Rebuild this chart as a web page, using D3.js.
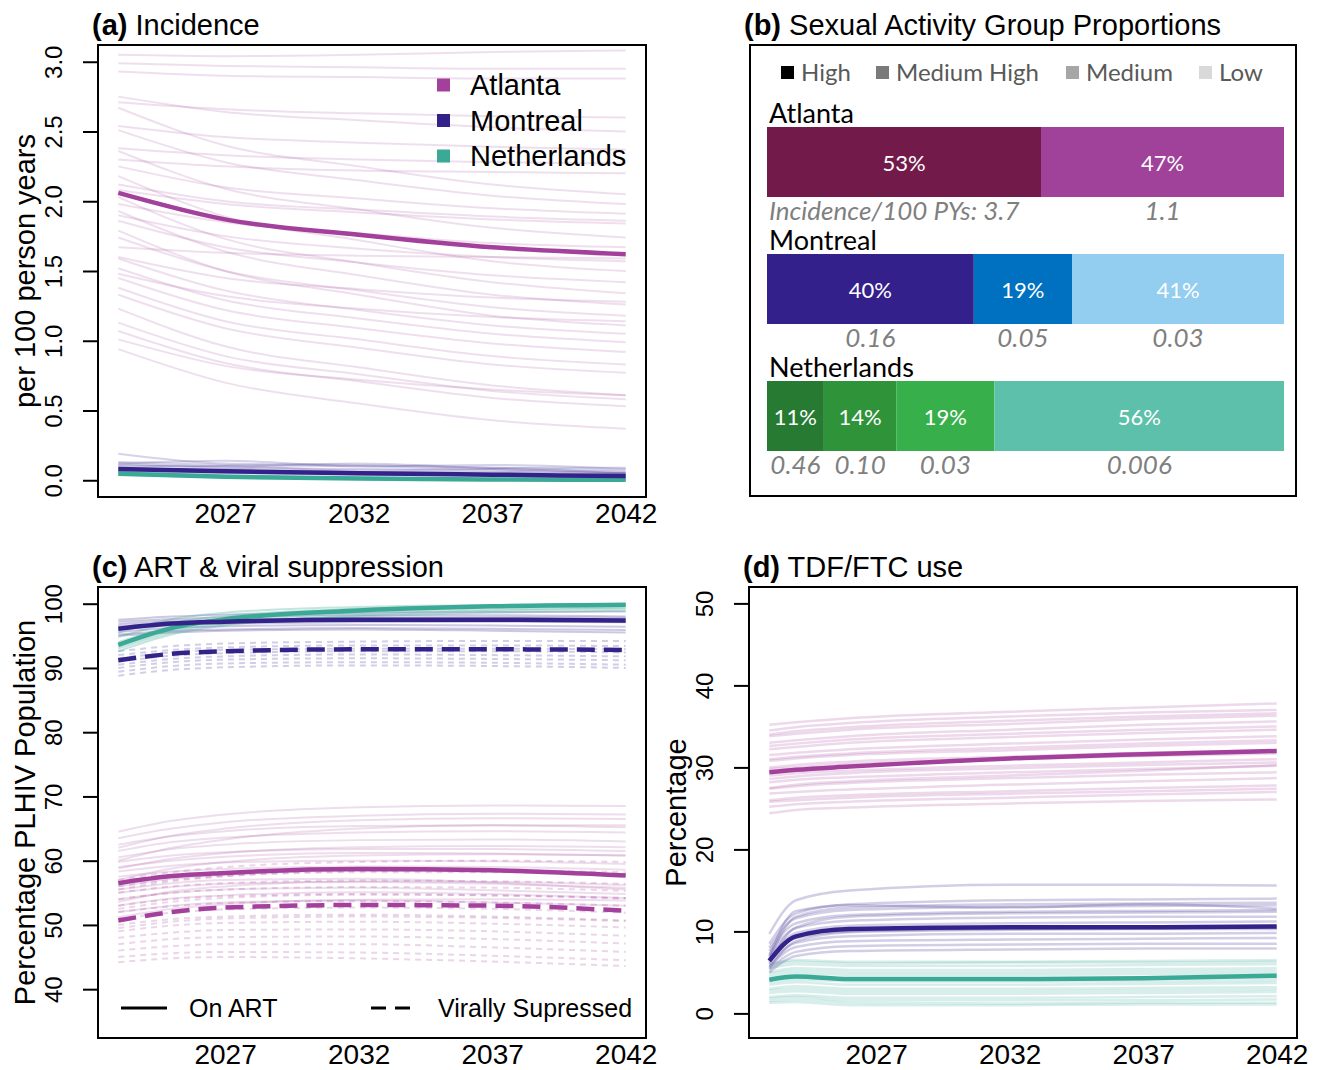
<!DOCTYPE html>
<html>
<head>
<meta charset="utf-8">
<script src="https://cdn.jsdelivr.net/npm/d3@7"></script>
<style>
  body { margin: 0; background: #fff; }
  svg { display: block; font-family: "Liberation Sans", Arial, sans-serif; }
</style>
</head>
<body>
<div id="chart"></div>
<script>
// ---- data ----
// x positions (years) used by each panel
const yearsA = [2023, 2027, 2032, 2037, 2042];
const yearsC = [2023, 2025, 2027, 2032, 2037, 2042];
const yearsD = [2023, 2024, 2026, 2032, 2037, 2042];
const xTickYears = [2027, 2032, 2037, 2042];

// (a) incidence per 100 person years
const atlIncMean = [2.06, 1.87, 1.76, 1.67, 1.62];
const mtlIncMean = [0.08, 0.065, 0.05, 0.04, 0.03];
const netIncMean = [0.047, 0.025, 0.012, 0.006, 0.003];
const atlIncRuns = [
  [3.05, 3.04, 3.05, 3.07, 3.08], [2.99, 2.97, 2.96, 2.95, 2.95], [2.93, 2.90, 2.89, 2.88, 2.88],
  [2.75, 2.64, 2.58, 2.53, 2.50], [2.71, 2.66, 2.63, 2.61, 2.60], [2.67, 2.40, 2.25, 2.12, 2.05],
  [2.54, 2.46, 2.42, 2.39, 2.37], [2.51, 2.28, 2.15, 2.04, 1.98], [2.38, 2.33, 2.30, 2.28, 2.27],
  [2.36, 2.09, 1.94, 1.81, 1.74], [2.30, 2.25, 2.22, 2.21, 2.20], [2.25, 2.10, 2.02, 1.95, 1.91],
  [2.18, 1.89, 1.72, 1.57, 1.50], [2.12, 2.00, 1.94, 1.89, 1.86], [2.08, 1.98, 1.92, 1.87, 1.84],
  [2.03, 1.73, 1.56, 1.42, 1.34], [1.98, 1.85, 1.77, 1.70, 1.67], [1.93, 1.64, 1.47, 1.33, 1.26],
  [1.90, 1.75, 1.66, 1.60, 1.57], [1.86, 1.67, 1.56, 1.47, 1.42], [1.79, 1.50, 1.33, 1.18, 1.11],
  [1.74, 1.50, 1.36, 1.24, 1.18], [1.67, 1.63, 1.61, 1.60, 1.59], [1.60, 1.45, 1.37, 1.31, 1.28],
  [1.59, 1.36, 1.22, 1.11, 1.05], [1.52, 1.29, 1.16, 1.05, 0.99], [1.48, 1.32, 1.23, 1.17, 1.14],
  [1.45, 1.22, 1.09, 0.98, 0.92], [1.38, 1.14, 1.01, 0.89, 0.83], [1.33, 1.09, 0.95, 0.83, 0.77],
  [1.23, 0.96, 0.81, 0.68, 0.61], [1.13, 0.89, 0.76, 0.64, 0.58], [1.07, 0.84, 0.71, 0.59, 0.53],
  [1.01, 0.82, 0.72, 0.65, 0.61], [0.94, 0.70, 0.55, 0.43, 0.37]
];
const mtlIncRuns = [
  [0.19, 0.12, 0.11, 0.09, 0.07], [0.13, 0.11, 0.10, 0.08, 0.06], [0.12, 0.14, 0.10, 0.11, 0.08],
  [0.11, 0.09, 0.08, 0.07, 0.05], [0.10, 0.10, 0.07, 0.08, 0.05], [0.09, 0.07, 0.06, 0.05, 0.04],
  [0.07, 0.06, 0.05, 0.04, 0.03], [0.06, 0.05, 0.04, 0.03, 0.02], [0.12, 0.10, 0.12, 0.09, 0.09],
  [0.08, 0.08, 0.06, 0.06, 0.05]
];
const netIncRuns = [
  [0.06, 0.035, 0.02, 0.01, 0.006], [0.05, 0.03, 0.015, 0.008, 0.004],
  [0.04, 0.02, 0.01, 0.005, 0.002], [0.055, 0.03, 0.018, 0.01, 0.006]
];

// (b) sexual activity group proportions (%) and incidence labels
const cities = ["Atlanta", "Montreal", "Netherlands"];
const groupNames = ["High", "Medium High", "Medium", "Low"];
const atlShares = [53, 47];
const mtlShares = [40, 19, 41];
const netShares = [11, 14, 19, 56];
const atlIncLabels = ["Incidence/100 PYs: 3.7", "1.1"];
const mtlIncLabels = ["0.16", "0.05", "0.03"];
const netIncLabels = ["0.46", "0.10", "0.03", "0.006"];

// (c) % of PLHIV on ART (solid) and virally suppressed (dashed)
const atlArtMean = [56.5, 57.6, 58.1, 58.7, 58.5, 57.7];
const atlVsMean = [50.7, 52.0, 52.7, 53.1, 53.0, 52.2];
const mtlArtMean = [96.1, 96.9, 97.2, 97.5, 97.5, 97.4];
const mtlVsMean = [91.2, 92.2, 92.6, 92.9, 92.9, 92.8];
const netArtMean = [93.6, 96.2, 97.6, 98.95, 99.6, 99.85];
const atlArtRuns = [
  [64.5, 66.2, 67.2, 68.3, 68.6, 68.5], [63.5, 65.0, 66.0, 67.0, 67.3, 67.2], [62.5, 63.8, 64.6, 65.4, 65.5, 65.2],
  [61.5, 62.9, 63.6, 64.4, 64.6, 64.4], [60.5, 61.8, 62.5, 63.2, 63.3, 63.0], [59.8, 60.8, 61.3, 61.8, 61.8, 61.5],
  [59.0, 60.0, 60.6, 61.2, 61.1, 60.8], [58.3, 59.2, 59.7, 60.0, 59.9, 59.5], [57.5, 58.3, 58.7, 59.1, 59.0, 58.6],
  [56.0, 57.2, 57.8, 58.4, 58.3, 57.9], [55.0, 55.9, 56.4, 56.7, 56.4, 55.8], [54.0, 55.0, 55.5, 55.8, 55.4, 54.8],
  [53.0, 54.1, 54.6, 55.1, 54.8, 54.2], [52.0, 53.0, 53.5, 53.8, 53.5, 53.0], [51.2, 52.5, 53.2, 53.9, 54.0, 53.8],
  [60.0, 62.0, 63.3, 65.0, 65.5, 65.5], [57.0, 58.8, 59.8, 60.8, 61.0, 60.8], [55.5, 56.5, 57.0, 57.2, 56.6, 55.5],
  [62.0, 63.9, 65.0, 66.3, 66.6, 66.5], [58.8, 60.3, 61.2, 62.1, 62.3, 62.1], [53.6, 55.2, 56.0, 56.8, 56.7, 56.2]
];
const atlVsRuns = [
  [57.0, 58.2, 59.0, 59.8, 60.0, 59.8], [56.0, 57.0, 57.6, 58.2, 58.2, 57.8], [55.0, 56.0, 56.5, 56.9, 56.8, 56.4],
  [54.0, 55.0, 55.5, 55.9, 55.8, 55.3], [53.0, 54.0, 54.5, 54.8, 54.6, 54.1], [52.0, 52.9, 53.4, 53.7, 53.5, 53.0],
  [51.0, 51.9, 52.4, 52.7, 52.5, 51.9], [50.0, 50.9, 51.3, 51.6, 51.3, 50.7], [49.0, 49.9, 50.3, 50.5, 50.2, 49.6],
  [48.0, 48.8, 49.2, 49.3, 49.0, 48.3], [47.0, 47.8, 48.1, 48.2, 47.8, 47.1], [46.0, 46.7, 47.0, 47.0, 46.5, 45.8],
  [45.0, 45.6, 45.8, 45.7, 45.2, 44.5], [44.2, 44.8, 45.0, 44.8, 44.3, 43.6], [55.5, 56.8, 57.6, 58.4, 58.5, 58.2],
  [52.5, 53.6, 54.2, 54.7, 54.6, 54.2], [49.5, 50.5, 51.0, 51.3, 51.1, 50.6]
];
const mtlArtRuns = [
  [97.5, 98.0, 98.3, 98.6, 98.7, 98.8], [97.2, 97.6, 97.9, 98.2, 98.2, 98.0], [96.8, 97.3, 97.5, 97.8, 97.9, 97.8],
  [96.5, 97.0, 97.3, 97.6, 97.5, 97.2], [96.0, 96.6, 96.9, 97.1, 97.2, 97.1], [95.6, 96.2, 96.5, 96.7, 96.6, 96.4],
  [95.2, 95.8, 96.0, 96.2, 96.1, 95.9], [95.0, 95.5, 95.8, 96.0, 95.8, 95.5]
];
const mtlVsRuns = [
  [92.6, 93.4, 93.8, 94.1, 94.2, 94.2], [92.0, 92.8, 93.2, 93.5, 93.5, 93.4], [91.5, 92.4, 92.8, 93.0, 93.0, 92.9],
  [91.0, 91.9, 92.3, 92.6, 92.6, 92.4], [90.5, 91.4, 91.8, 92.1, 92.0, 91.8], [90.0, 90.9, 91.3, 91.5, 91.4, 91.2],
  [89.4, 90.3, 90.7, 90.9, 90.8, 90.5], [88.8, 89.7, 90.1, 90.4, 90.3, 90.0]
];
const netArtRuns = [
  [95.5, 97.6, 98.6, 99.5, 99.8, 99.9], [94.8, 97.0, 98.1, 99.2, 99.6, 99.8], [94.0, 96.4, 97.6, 98.9, 99.4, 99.6],
  [93.3, 95.8, 97.1, 98.5, 99.1, 99.4], [92.6, 95.2, 96.6, 98.2, 98.9, 99.2], [93.0, 95.5, 96.8, 98.0, 98.6, 98.9]
];

// (d) TDF/FTC use (%)
const atlPrepMean = [29.4, 29.7, 30.1, 31.1, 31.6, 32.0];
const mtlPrepMean = [6.4, 9.4, 10.3, 10.5, 10.5, 10.6];
const netPrepMean = [4.1, 4.5, 4.2, 4.2, 4.3, 4.6];
const atlPrepRuns = [
  [35.2, 35.5, 36.0, 36.8, 37.3, 37.8], [34.5, 34.9, 35.4, 36.2, 36.7, 37.0], [33.8, 34.1, 34.6, 35.3, 35.9, 36.3],
  [33.0, 33.3, 33.8, 34.6, 35.2, 35.6], [32.2, 32.5, 33.0, 33.7, 34.2, 34.6], [31.5, 31.8, 32.2, 32.9, 33.4, 33.8],
  [30.8, 31.1, 31.5, 32.1, 32.6, 33.0], [30.0, 30.3, 30.7, 31.3, 31.8, 32.1], [29.0, 29.3, 29.6, 30.2, 30.6, 31.0],
  [28.2, 28.5, 28.8, 29.4, 29.8, 30.2], [27.4, 27.7, 28.1, 28.7, 29.1, 29.4], [26.8, 27.0, 27.3, 27.9, 28.3, 28.7],
  [26.0, 26.3, 26.6, 27.1, 27.5, 27.8], [25.2, 25.5, 25.8, 26.3, 26.7, 27.0], [24.4, 24.8, 25.1, 25.6, 25.9, 26.1],
  [27.5, 27.9, 28.3, 29.0, 29.6, 30.3], [34.0, 34.4, 34.9, 35.7, 36.2, 36.6], [32.6, 32.9, 33.4, 34.1, 34.6, 35.0],
  [31.0, 31.3, 31.7, 32.4, 32.9, 33.3], [29.8, 30.0, 30.4, 31.0, 31.4, 31.7], [28.6, 28.9, 29.3, 29.9, 30.3, 30.6],
  [25.8, 26.0, 26.3, 26.8, 27.1, 27.4]
];
const mtlPrepRuns = [
  [9.7, 13.8, 15.0, 15.7, 15.7, 15.6], [8.5, 12.2, 13.3, 13.8, 13.9, 14.0], [8.0, 11.6, 12.6, 13.0, 13.1, 13.2],
  [7.6, 11.0, 12.0, 12.4, 12.5, 12.6], [7.2, 10.4, 11.3, 11.7, 11.8, 11.8], [6.8, 9.8, 10.7, 11.0, 11.1, 11.2],
  [6.4, 9.2, 10.0, 10.3, 10.4, 10.4], [6.0, 8.6, 9.4, 9.7, 9.7, 9.8], [5.7, 8.1, 8.8, 9.0, 9.1, 9.2],
  [5.3, 7.5, 8.2, 8.4, 8.5, 8.5], [5.0, 7.0, 7.6, 7.8, 7.9, 7.9], [7.0, 12.5, 13.2, 12.9, 13.3, 12.8],
  [6.2, 10.5, 11.8, 12.2, 12.3, 12.4], [5.5, 8.8, 9.9, 10.2, 10.3, 10.3], [6.6, 11.8, 12.9, 13.3, 13.4, 13.5]
];
const netPrepRuns = [
  [6.0, 6.5, 6.3, 6.3, 6.4, 6.5], [5.5, 6.0, 5.8, 5.8, 5.9, 6.0], [5.0, 5.5, 5.3, 5.3, 5.4, 5.5],
  [4.5, 4.9, 4.7, 4.7, 4.8, 4.9], [4.0, 4.4, 4.1, 4.1, 4.2, 4.3], [3.5, 3.8, 3.5, 3.5, 3.6, 3.7],
  [3.0, 3.3, 3.0, 3.0, 3.1, 3.2], [2.5, 2.7, 2.4, 2.4, 2.5, 2.6], [2.0, 2.2, 1.9, 1.9, 2.0, 2.1],
  [1.5, 1.7, 1.3, 1.2, 1.3, 1.3], [1.3, 1.4, 1.0, 1.0, 1.1, 1.1], [5.8, 6.3, 6.1, 6.2, 6.2, 6.3],
  [4.8, 5.2, 5.0, 5.0, 5.1, 5.2], [3.8, 4.1, 3.9, 3.9, 3.9, 4.0], [2.8, 3.0, 2.7, 2.7, 2.8, 2.9],
  [1.8, 2.0, 1.6, 1.6, 1.6, 1.7]
];

// ---- styling ----
const colAtl = "#a3409b", colMtl = "#33228a", colNet = "#3aa996";
const barColors = {
  Atlanta: ["#721b4a", "#a0429a"],
  Montreal: ["#33208a", "#0070c0", "#93cdef"],
  Netherlands: ["#277a32", "#2e9339", "#37b04b", "#5cc0aa"]
};
const legendGrays = ["#000000", "#7a7a7a", "#a6a6a6", "#d9d9d9"];
const calibri = "Lato, 'Open Sans', sans-serif";

const svg = d3.select("#chart").append("svg")
  .attr("width", 1320)
  .attr("height", 1070);

// panel frames
const boxA = { x0: 98, x1: 646, y0: 45, y1: 497 };
const boxB = { x0: 750, x1: 1296, y0: 45, y1: 496 };
const boxC = { x0: 98, x1: 646, y0: 587, y1: 1038 };
const boxD = { x0: 749, x1: 1297, y0: 587, y1: 1038 };

// Panel title: bold letter then normal text
function panelTitle(x, y, letter, text) {
  const t = svg.append("text")
    .attr("x", x).attr("y", y)
    .style("font-size", "29px");
  t.append("tspan").style("font-weight", "bold").text(letter);
  t.append("tspan").text(" " + text);
}

// Build a line panel and return its scales
function linePanel(box, yDomain, yTicks, yFmt, yTitle) {
  const x = d3.scaleLinear().domain([2022.24, 2042.76]).range([box.x0, box.x1]);
  const y = d3.scaleLinear().domain(yDomain).range([box.y1, box.y0]);

  const yAxis = svg.append("g")
    .attr("transform", `translate(${box.x0},0)`)
    .call(d3.axisLeft(y).tickValues(yTicks).tickSize(15).tickFormat(yFmt));
  yAxis.attr("font-family", null).attr("font-size", null);
  yAxis.select(".domain").remove();
  yAxis.selectAll(".tick line").attr("stroke", "#000").attr("stroke-width", 2);
  yAxis.selectAll(".tick text")
    .attr("x", null).attr("dy", null)
    .attr("transform", "translate(-36,0) rotate(-90)")
    .attr("text-anchor", "middle")
    .attr("fill", "#000")
    .style("font-size", "24px");

  const xAxis = svg.append("g")
    .attr("transform", `translate(0,${box.y1})`)
    .call(d3.axisBottom(x).tickValues(xTickYears).tickSize(0).tickFormat(d3.format("d")));
  xAxis.attr("font-family", null).attr("font-size", null);
  xAxis.select(".domain").remove();
  xAxis.selectAll(".tick text")
    .attr("y", 26).attr("dy", null)
    .attr("fill", "#000")
    .style("font-size", "28px");

  svg.append("text")
    .attr("transform", `translate(${box.x0 - 63},${(box.y0 + box.y1) / 2}) rotate(-90)`)
    .attr("text-anchor", "middle")
    .style("font-size", "29px")
    .text(yTitle);

  const layer = svg.append("g");
  return { x, y, layer };
}

// Draw a bundle of runs (thin) or a single mean line (thick)
function drawRuns(p, years, runs, color, opacity, width, dash) {
  const line = d3.line()
    .x((d, i) => p.x(years[i]))
    .y(d => p.y(d))
    .curve(d3.curveMonotoneX);
  p.layer.append("g").selectAll("path")
    .data(runs)
    .enter().append("path")
    .attr("d", line)
    .attr("fill", "none")
    .attr("stroke", color)
    .attr("stroke-opacity", opacity)
    .attr("stroke-width", width)
    .attr("stroke-dasharray", dash || null);
}

function frame(box) {
  svg.append("rect")
    .attr("x", box.x0).attr("y", box.y0)
    .attr("width", box.x1 - box.x0).attr("height", box.y1 - box.y0)
    .attr("fill", "none").attr("stroke", "#000").attr("stroke-width", 2);
}

// ---------- (a) Incidence ----------
panelTitle(92, 35, "(a)", "Incidence");
const pA = linePanel(boxA, [-0.12, 3.12], [0, 0.5, 1, 1.5, 2, 2.5, 3], d3.format(".1f"), "per 100 person years");
drawRuns(pA, yearsA, atlIncRuns, colAtl, 0.17, 2);
drawRuns(pA, yearsA, mtlIncRuns, colMtl, 0.2, 2);
drawRuns(pA, yearsA, netIncRuns, colNet, 0.3, 2);
drawRuns(pA, yearsA, [atlIncMean], colAtl, 1, 4.5);
drawRuns(pA, yearsA, [netIncMean], colNet, 1, 4.5);
drawRuns(pA, yearsA, [mtlIncMean], colMtl, 1, 4.5);
frame(boxA);

// legend for cities
const legA = svg.append("g").attr("transform", "translate(437,85)");
cities.forEach((c, i) => {
  const row = legA.append("g").attr("transform", `translate(0,${i * 35.5})`);
  row.append("rect").attr("x", 0).attr("y", -6.5).attr("width", 13).attr("height", 13)
    .attr("fill", [colAtl, colMtl, colNet][i]);
  row.append("text").attr("x", 33).attr("dy", "0.35em").style("font-size", "29px").text(c);
});

// ---------- (b) Sexual activity groups ----------
panelTitle(744, 35, "(b)", "Sexual Activity Group Proportions");
frame(boxB);

const legB = svg.append("g").attr("font-family", calibri);
const legX = [781, 876, 1066, 1199];
groupNames.forEach((g, i) => {
  legB.append("rect").attr("x", legX[i]).attr("y", 66).attr("width", 13).attr("height", 13)
    .attr("fill", legendGrays[i]);
  legB.append("text").attr("x", legX[i] + 20).attr("y", 81)
    .attr("fill", "#595959").style("font-size", "24px").text(g);
});

const shareX = d3.scaleLinear().domain([0, 100]).range([767, 1284]);
const rowY = d3.scalePoint().domain(cities).range([127, 381]);
const barH = 70;
const rows = [
  { city: "Atlanta", shares: atlShares, inc: atlIncLabels },
  { city: "Montreal", shares: mtlShares, inc: mtlIncLabels },
  { city: "Netherlands", shares: netShares, inc: netIncLabels }
];

rows.forEach(r => {
  const top = rowY(r.city);
  const g = svg.append("g").attr("font-family", calibri);
  g.append("text").attr("x", 769).attr("y", top - 4)
    .style("font-size", "27px").attr("fill", "#000").text(r.city);
  let cum = 0;
  r.shares.forEach((s, i) => {
    const x0 = shareX(cum), x1 = shareX(cum + s);
    cum += s;
    g.append("rect").attr("x", x0).attr("y", top).attr("width", x1 - x0).attr("height", barH)
      .attr("fill", barColors[r.city][i]);
    g.append("text").attr("x", (x0 + x1) / 2).attr("y", top + 44)
      .attr("text-anchor", "middle").attr("fill", "#fff").style("font-size", "22px")
      .text(s + "%");
    const first = r.city === "Atlanta" && i === 0;
    g.append("text").attr("x", first ? 769 : (x0 + x1) / 2).attr("y", top + barH + 23)
      .attr("text-anchor", first ? "start" : "middle")
      .attr("fill", "#7f7f7f").style("font-style", "italic").style("font-size", "26px")
      .text(r.inc[i]);
  });
});

// ---------- (c) ART & viral suppression ----------
panelTitle(92, 577, "(c)", "ART & viral suppression");
const pC = linePanel(boxC, [32.4, 102.6], [40, 50, 60, 70, 80, 90, 100], d3.format("d"), "Percentage PLHIV Population");
drawRuns(pC, yearsC, atlArtRuns, colAtl, 0.18, 2);
drawRuns(pC, yearsC, atlVsRuns, colAtl, 0.22, 2, "6,5");
drawRuns(pC, yearsC, mtlVsRuns, colMtl, 0.22, 2, "6,5");
drawRuns(pC, yearsC, mtlArtRuns, colMtl, 0.25, 2);
drawRuns(pC, yearsC, netArtRuns, colNet, 0.3, 2);
drawRuns(pC, yearsC, [atlArtMean], colAtl, 1, 4.5);
drawRuns(pC, yearsC, [atlVsMean], colAtl, 1, 4.5, "18,9");
drawRuns(pC, yearsC, [netArtMean], colNet, 1, 4.5);
drawRuns(pC, yearsC, [mtlArtMean], colMtl, 1, 4.5);
drawRuns(pC, yearsC, [mtlVsMean], colMtl, 1, 4.5, "18,9");
frame(boxC);

// line-type legend
const legC = svg.append("g").attr("transform", "translate(0,1008)");
legC.append("line").attr("x1", 121).attr("x2", 167).attr("stroke", "#000").attr("stroke-width", 3);
legC.append("text").attr("x", 189).attr("dy", "0.35em").style("font-size", "25px").text("On ART");
legC.append("line").attr("x1", 371).attr("x2", 418).attr("stroke", "#000").attr("stroke-width", 3)
  .attr("stroke-dasharray", "15,9");
legC.append("text").attr("x", 438).attr("dy", "0.35em").style("font-size", "25px").text("Virally Supressed");

// ---------- (d) TDF/FTC use ----------
panelTitle(743, 577, "(d)", "TDF/FTC use");
const pD = linePanel(boxD, [-3, 52], [0, 10, 20, 30, 40, 50], d3.format("d"), "Percentage");
drawRuns(pD, yearsD, atlPrepRuns, colAtl, 0.2, 2.5);
drawRuns(pD, yearsD, netPrepRuns, colNet, 0.2, 2.5);
drawRuns(pD, yearsD, mtlPrepRuns, colMtl, 0.22, 2.5);
drawRuns(pD, yearsD, [atlPrepMean], colAtl, 1, 4.5);
drawRuns(pD, yearsD, [netPrepMean], colNet, 1, 4.5);
drawRuns(pD, yearsD, [mtlPrepMean], colMtl, 1, 4.5);
frame(boxD);
</script>
</body>
</html>
